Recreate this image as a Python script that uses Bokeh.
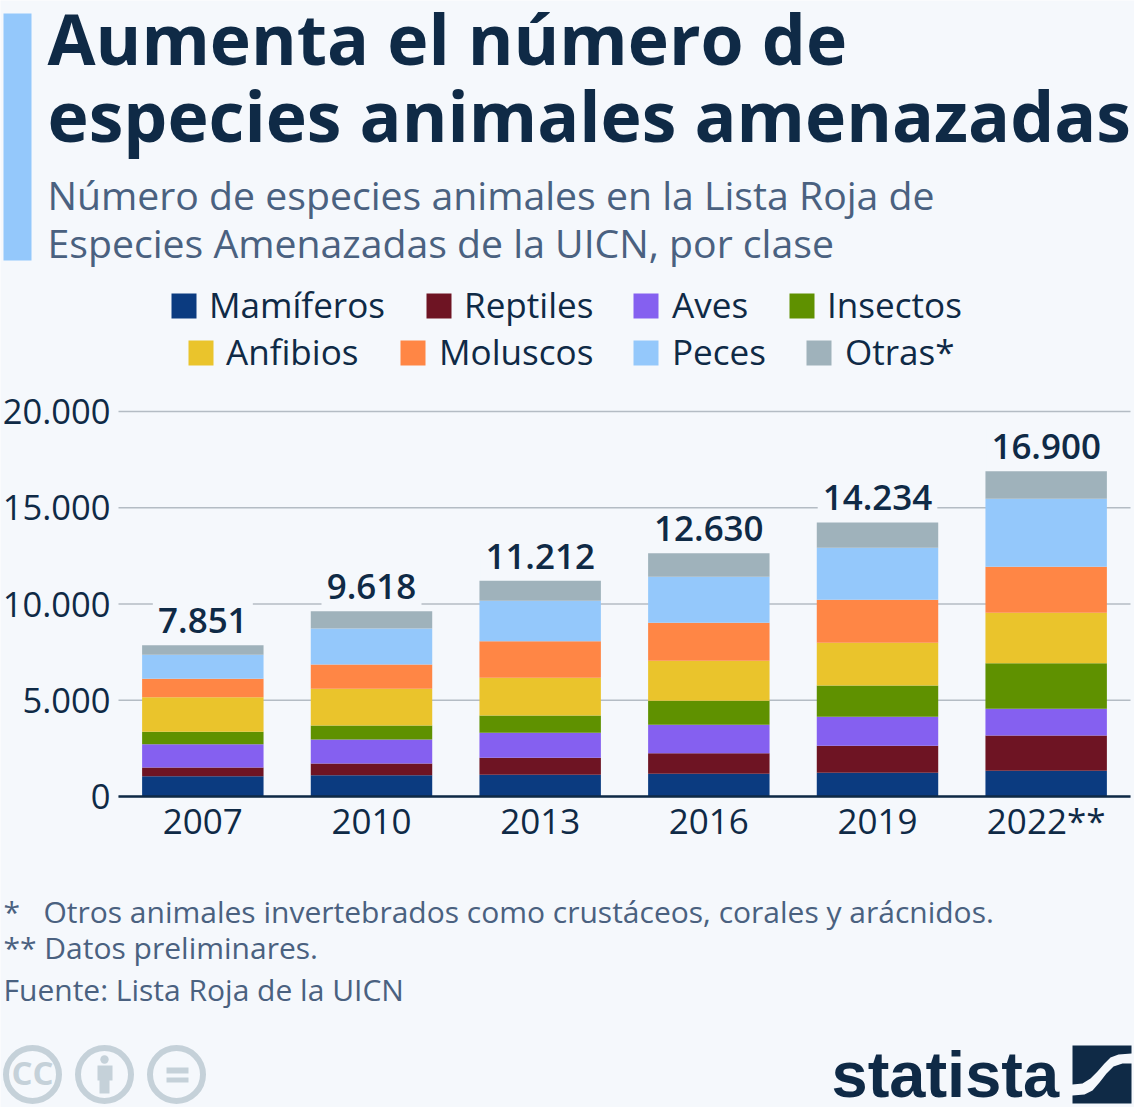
from bokeh.core.properties import value
from bokeh.embed import file_html
from bokeh.resources import INLINE
from bokeh.plotting import figure
from bokeh.models import ColumnDataSource, Range1d, LabelSet, FixedTicker

years = ["2007", "2010", "2013", "2016", "2019", "2022**"]
mamiferos = [1056, 1108, 1126, 1177, 1229, 1333]
reptiles = [450, 606, 883, 1074, 1403, 1836]
aves = [1213, 1247, 1298, 1472, 1507, 1385]
insectos = [640, 727, 901, 1247, 1627, 2372]
anfibios = [1801, 1905, 1957, 2078, 2217, 2615]
moluscos = [953, 1264, 1904, 1974, 2233, 2390]
peces = [1246, 1870, 2096, 2389, 2702, 3532]
otras = [492, 891, 1047, 1219, 1316, 1437]
totals = [7851, 9618, 11212, 12630, 14234, 16900]
total_labels = ["7.851", "9.618", "11.212", "12.630", "14.234", "16.900"]
y_ticks = [0, 5000, 10000, 15000, 20000]
y_tick_labels = ["0", "5.000", "10.000", "15.000", "20.000"]
names = ["Mamíferos", "Reptiles", "Aves", "Insectos", "Anfibios", "Moluscos", "Peces", "Otras*"]
colors = ["#0b3b80", "#6e1423", "#8560f0", "#5f9100", "#eac42c", "#ff8645", "#94c8fb", "#9fb2bb"]
title_lines = ["Aumenta el número de", "especies animales amenazadas"]
subtitle_lines = ["Número de especies animales en la Lista Roja de", "Especies Amenazadas de la UICN, por clase"]
notes = ["*\u00a0\u00a0\u00a0Otros animales invertebrados como crustáceos, corales y arácnidos.", "** Datos preliminares.",
         "Fuente: Lista Roja de la UICN"]

BG = "#f5f8fc"
DARK = "#0f2a46"
MID = "#4a6180"
ICON = "#c5d1d9"
FONT = "Open Sans"

W, H = 1134, 1107
L, R, T, B = 118, 1130, 411, 796           # plot area in page pixels
PX_Y = (B - T) / 20000                     # pixels per species
PX_X = (R - L) / len(years)                # pixels per category

positions = list(range(len(years)))
knock_w = [(len(s) * 19.6 - 12 + 14) / PX_X for s in total_labels]
knock_top = [v + 43 / PX_Y for v in totals]

data = dict(pos=positions, total=totals, label=total_labels, kw=knock_w, kt=knock_top)
for n, v in zip(names, [mamiferos, reptiles, aves, insectos, anfibios, moluscos, peces, otras]):
    data[n] = v
src = ColumnDataSource(data)

p = figure(width=W, height=H,
           x_range=Range1d(-0.5 - L / PX_X, -0.5 + (W - L) / PX_X),
           y_range=Range1d(-(H - B) / PX_Y, B / PX_Y),
           output_backend="svg", toolbar_location=None, min_border=0,
           background_fill_color=BG, border_fill_color=BG, outline_line_color=None)
p.styles = {"position": "absolute", "left": "0px", "top": "0px"}
p.extra_x_ranges = {"px": Range1d(0, W)}
p.extra_y_ranges = {"px": Range1d(H, 0)}

p.grid.visible = False
p.segment(x0=[-0.5] * len(y_ticks), x1=[len(years) - 0.5] * len(y_ticks), y0=y_ticks, y1=y_ticks,
          line_color="#b4bcc4", line_width=1.5)
p.vbar(x="pos", bottom="total", top="kt", width="kw", source=src, fill_color=BG, line_color=None)
p.vbar_stack(names, x="pos", width=0.72, source=src, color=colors, line_width=0)

p.yaxis.fixed_location = -0.5
p.yaxis.bounds = (0, 20000)
p.yaxis.ticker = FixedTicker(ticks=y_ticks)
p.yaxis.major_label_overrides = dict(zip(y_ticks, y_tick_labels))
p.yaxis.axis_line_color = None
p.yaxis.major_tick_line_color = None
p.yaxis.minor_tick_line_color = None
p.yaxis.major_tick_out = 0
p.yaxis.major_tick_in = 0
p.yaxis.major_label_standoff = 8
p.yaxis.major_label_text_font = FONT
p.yaxis.major_label_text_font_size = "34.5px"
p.yaxis.major_label_text_color = DARK

p.xaxis.fixed_location = 0
p.xaxis.bounds = (-0.5, len(years) - 0.5)
p.xaxis.ticker = FixedTicker(ticks=positions)
p.xaxis.major_label_overrides = dict(zip(positions, years))
p.xaxis.axis_line_color = DARK
p.xaxis.axis_line_width = 2.5
p.xaxis.major_tick_line_color = None
p.xaxis.minor_tick_line_color = None
p.xaxis.major_tick_out = 0
p.xaxis.major_tick_in = 0
p.xaxis.major_label_standoff = 0
p.xaxis.major_label_text_font = FONT
p.xaxis.major_label_text_font_size = "35px"
p.xaxis.major_label_text_color = DARK
p.xaxis.major_label_orientation = "horizontal"

p.add_layout(LabelSet(x="pos", y="total", text="label", source=src, y_offset=12,
                      text_align="center", text_baseline="bottom", text_font=value("Open Sans SemiBold"),
                      text_font_size="35px", text_color=DARK))

BASE = 0.4

def text(x, y, s, size, color, style="normal", font=FONT, align="left"):
    p.text(x=[x], y=[y - BASE * size], text=[s], text_font=value(font), text_font_size=f"{size}px",
           text_font_style=style, text_color=color, text_baseline="alphabetic", text_align=align,
           x_range_name="px", y_range_name="px")

def block(x0, x1, y0, y1, color):
    p.quad(left=[x0], right=[x1], top=[y0], bottom=[y1], fill_color=color, line_color=None,
           x_range_name="px", y_range_name="px")

def shape(xs, ys, color):
    p.patch(xs, ys, fill_color=color, line_color=None, x_range_name="px", y_range_name="px")

block(3, 31, 13, 260, "#94c8fb")
text(47, 65, title_lines[0], 69.7, DARK, "bold")
text(47, 142, title_lines[1], 69.7, DARK, "bold")
text(47, 210, subtitle_lines[0], 39.2, MID)
text(47, 258, subtitle_lines[1], 39.2, MID)

swatch_x = [171, 426, 633, 789, 188, 400, 633, 806]
label_x = [210, 465, 673, 828, 227, 440, 673, 846]
row_y = [293, 293, 293, 293, 340, 340, 340, 340]
for n, c, sx, lx, ry in zip(names, colors, swatch_x, label_x, row_y):
    block(sx, sx + 25, ry, ry + 25, c)
    text(lx - 1.5, ry + 25, n, 35.1, DARK)

text(3, 923, notes[0], 30, MID)
text(3, 959, notes[1], 30, MID)
text(3, 1001, notes[2], 30, MID)

for cx in (32, 104, 176):
    p.circle(x=[cx], y=[1074], radius=26.5, fill_color=None, line_color=ICON, line_width=6,
             x_range_name="px", y_range_name="px")
text(32, 1085.5, "CC", 33, ICON, "bold", align="center")
p.circle(x=[104], y=[1059], radius=4.2, fill_color=ICON, line_color=None, x_range_name="px", y_range_name="px")
shape([97, 112, 112, 109, 109, 99, 99, 97], [1065, 1065, 1080, 1080, 1093, 1093, 1080, 1080], ICON)
block(166, 188, 1067, 1073, ICON)
block(166, 188, 1077, 1082, ICON)

text(831, 1100, "statista", 65, DARK, "bold", font="Liberation Sans")
shape([1072, 1131, 1131, 1118, 1110, 1104, 1097, 1090, 1082, 1072],
      [1045, 1045, 1053, 1054, 1057, 1063, 1071, 1078, 1083, 1084], DARK)
shape([1131, 1131, 1072, 1072, 1084, 1092, 1099, 1106, 1113, 1122],
      [1063, 1103, 1103, 1095, 1094, 1090, 1082, 1073, 1066, 1063], DARK)

open("out.html", "w").write(file_html(p, INLINE))
